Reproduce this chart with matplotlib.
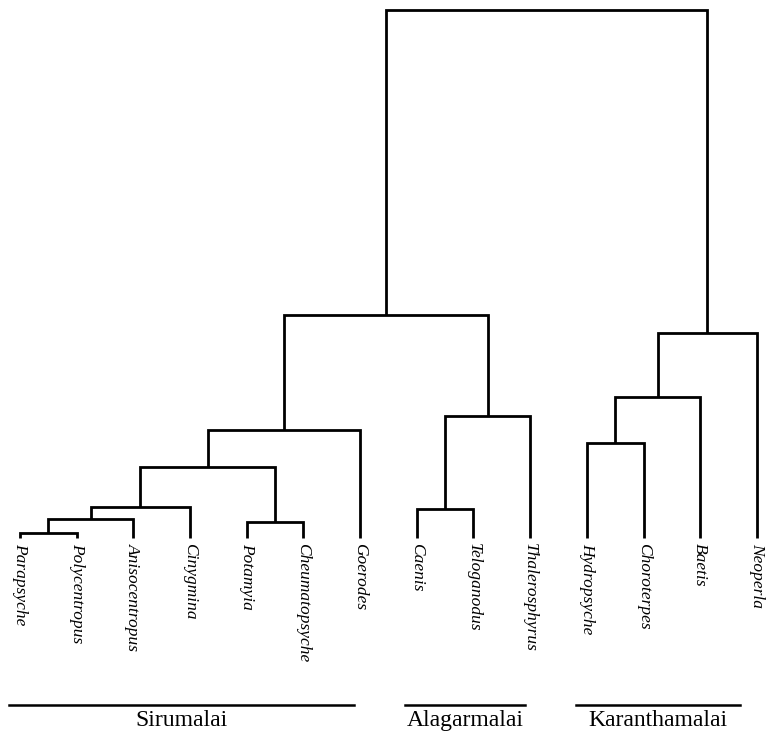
import matplotlib
matplotlib.use("Agg")
import matplotlib.pyplot as plt

# ---- data ----
taxa = ["Parapsyche", "Polycentropus", "Anisocentropus", "Cinygmina", "Potamyia",
        "Cheumatopsyche", "Goerodes", "Caenis", "Teloganodus", "Thalerosphyrus",
        "Hydropsyche", "Choroterpes", "Baetis", "Neoperla"]
# merges: (node_a, node_b, linkage height); new nodes numbered from len(taxa)
merge_a = [0, 14, 15, 4, 16, 18, 7, 20, 19, 10, 23, 24, 22]
merge_b = [1, 2, 3, 5, 17, 6, 8, 9, 21, 11, 12, 13, 25]
merge_h = [5, 19, 31, 16, 71, 108, 29, 122, 223, 95, 141, 205, 528]
groups = ["Sirumalai", "Alagarmalai", "Karanthamalai"]
group_first = [0, 7, 10]
group_last = [6, 9, 13]

# ---- figure ----
fig = plt.figure(figsize=(7.66, 7.41), dpi=100)
ax = fig.add_axes([0, 0, 1, 1])
ax.set_xlim(-0.353, 13.16)
ax.set_ylim(-203, 538)
ax.axis("off")

xpos = {i: float(i) for i in range(len(taxa))}
ypos = {i: 0.0 for i in range(len(taxa))}
lw = 2.0
for k, (a, b, h) in enumerate(zip(merge_a, merge_b, merge_h)):
    node = len(taxa) + k
    ax.plot([xpos[a], xpos[a], xpos[b], xpos[b]], [ypos[a], h, h, ypos[b]],
            color="black", lw=lw, solid_joinstyle="miter", solid_capstyle="butt")
    xpos[node] = (xpos[a] + xpos[b]) / 2
    ypos[node] = h

for i, name in enumerate(taxa):
    ax.text(i, -5, name, rotation=-90, ha="center", va="top",
            fontsize=12.5, style="italic", family="Liberation Serif",
            color="black")

for g, f, l in zip(groups, group_first, group_last):
    end = l - 0.1 if l < len(taxa) - 1 else l - 0.3
    ax.plot([f - 0.2, end], [-167, -167], color="black", lw=1.8)
    ax.text((f - 0.2 + end) / 2, -172, g, ha="center", va="top",
            fontsize=17, family="Liberation Serif")

fig.savefig("out.png", dpi=100)
